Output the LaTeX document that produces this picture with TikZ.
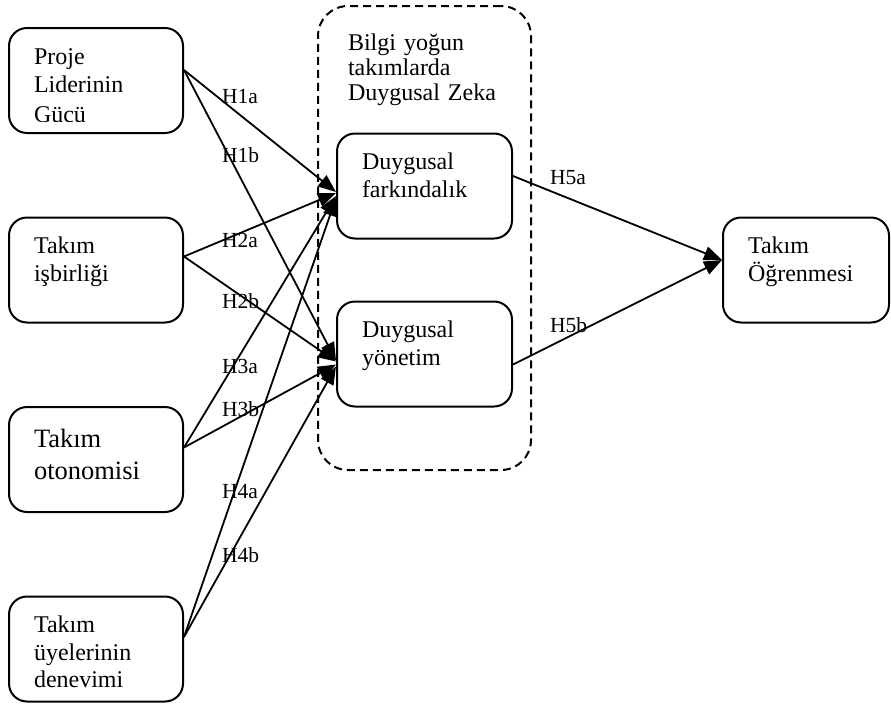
\documentclass[tikz,border=0pt]{standalone}
\usepackage{fontspec}
\setmainfont{Liberation Serif}
\usepackage{trimclip}
\usetikzlibrary{arrows.meta, positioning}

\begin{document}
\begin{tikzpicture}[
      x=1pt, y=-1pt,
      >={Triangle[length=18pt,width=14pt]},
      node distance=82.5pt,
      factor/.style={
        draw=black,
        rounded corners=18pt,
        line width=2pt,
        inner xsep=25pt,
        inner ysep=0pt,
        text width=124pt,
        text height=36pt,
        text depth=69pt,
        align=left,
        font=\fontsize{24}{27.5}\selectfont
      },
      bigtext/.style={
        text height=40pt,
        text depth=65pt,
        font=\fontsize{26.5}{32}\selectfont
      },
      group/.style={
        draw=black,
        dashed,
        dash pattern=on 8pt off 5pt,
        rounded corners=30pt,
        line width=2pt,
        inner xsep=30pt,
        inner ysep=0pt,
        text width=153pt,
        text height=44pt,
        text depth=420pt,
        align=left,
        font=\fontsize{24}{25}\selectfont
      },
      hyp/.style={font=\fontsize{21.5}{24}\selectfont, inner sep=0pt, anchor=base west},
      link/.style={->, draw=black, line width=1.8pt}
    ]
    \useasboundingbox (0,0) rectangle (891,704);

    % Emotional intelligence group
    \node[group] (ei) at (424.5,238) {Bilgi yoğun\\takımlarda\\Duygusal Zeka};

    % Antecedent boxes
    \node[factor, font=\fontsize{24}{28.5}\selectfont] (power) at (96,80.5) {Proje\\Liderinin\\\clipbox{0pt 1pt 0pt 0pt}{\raisebox{0pt}[\height][0pt]{Gücü}}};
    \node[factor, below=of power] (collab) {Takım\\işbirliği};
    \node[factor, bigtext, below=of collab] (autonomy) {Takım\\otonomisi};
    \node[factor, below=of autonomy] (experience) {Takım\\üyelerinin\\denevimi};

    % Mediator and outcome boxes
    \node[factor, text width=125pt] (awareness) at (424.5,186) {Duygusal\\farkındalık};
    \node[factor, text width=125pt, below=61pt of awareness] (management) {Duygusal\\yönetim};
    \node[factor, text width=116pt] (learning) at (806,270) {Takım\\Öğrenmesi};

    % Hypothesis labels
    \node[hyp] (h1a) at (222,103) {H1a};
    \node[hyp] (h1b) at (222,162) {H1b};
    \node[hyp] (h2a) at (222,247) {H2a};
    \node[hyp] (h2b) at (222,308) {H2b};
    \node[hyp] (h3a) at (222,373) {H3a};
    \node[hyp] (h3b) at (222,416) {H3b};
    \node[hyp] (h4a) at (222,498) {H4a};
    \node[hyp] (h4b) at (222,562) {H4b};
    \node[hyp] (h5a) at (550,184) {H5a};
    \node[hyp] (h5b) at (550,332) {H5b};

    % Paths to the mediators
    \draw[link] ([yshift=10.5pt]power.east) -- ([yshift=-6pt]awareness.west);
    \draw[link] ([yshift=10.5pt]power.east) -- ([yshift=-6.5pt]management.west);
    \draw[link] ([yshift=13.5pt]collab.east) -- ([yshift=-7pt]awareness.west);
    \draw[link] ([yshift=13.5pt]collab.east) -- ([yshift=-7.5pt]management.west);
    \draw[link] ([yshift=12pt]autonomy.east) -- ([yshift=-10pt]awareness.west);
    \draw[link] ([yshift=12pt]autonomy.east) -- ([yshift=-10.5pt]management.west);
    \draw[link] ([yshift=12pt]experience.east) -- ([yshift=-12pt]awareness.west);
    \draw[link] ([yshift=12pt]experience.east) -- ([yshift=-12.5pt]management.west);

    % Paths to the outcome
    \draw[link] ([yshift=10pt]awareness.east) -- ([yshift=10pt]learning.west);
    \draw[link] ([yshift=-10.5pt]management.east) -- ([yshift=10pt]learning.west);

  \end{tikzpicture}
\end{document}
